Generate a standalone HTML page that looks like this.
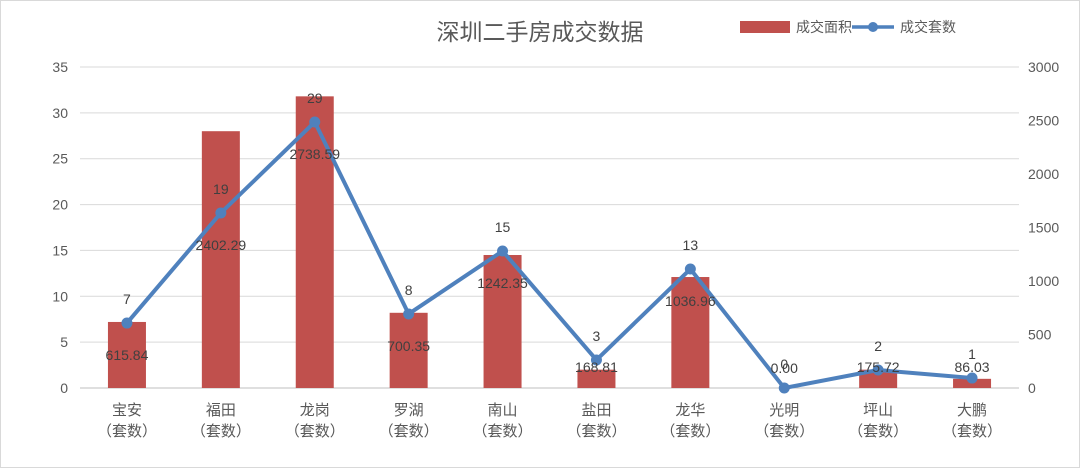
<!DOCTYPE html>
<html><head><meta charset="utf-8"><style>
body{margin:0;background:#fff;}
svg text{font-family:"Liberation Sans","Noto Sans CJK SC",sans-serif;}
</style></head><body>
<svg width="1080" height="468" viewBox="0 0 1080 468" id="c">
<rect x="0.5" y="0.5" width="1079" height="467" fill="#fff" stroke="#d9d9d9"/>
<text x="540" y="40" text-anchor="middle" font-size="23" fill="#595959">深圳二手房成交数据</text>
<g>
<rect x="740" y="21" width="50" height="12" fill="#c0504d"/>
<text x="796" y="32" font-size="14" fill="#595959">成交面积</text>
<line x1="852" y1="27" x2="894" y2="27" stroke="#4f81bd" stroke-width="3.5"/>
<circle cx="873" cy="27" r="5" fill="#4f81bd"/>
<text x="900" y="32" font-size="14" fill="#595959">成交套数</text>
</g>
<g id="grid"></g><g id="bars"></g><g id="line"></g><g id="labels"></g>
</svg>
<script>
const categories=["宝安","福田","龙岗","罗湖","南山","盐田","龙华","光明","坪山","大鹏"];
const barValues=[7.2,28,31.8,8.2,14.5,2,12.1,0,2,1];
const lineValues=[607,1636,2486,692,1280,262,1112,0,168,93];
const countLabels=["7","19","29","8","15","3","13","0","2","1"];
const areaLabels=["615.84","2402.29","2738.59","700.35","1242.35","168.81","1036.96","0.00","175.72","86.03"];
const leftTicks=[0,5,10,15,20,25,30,35];
const rightTicks=[0,500,1000,1500,2000,2500,3000];
const NS="http://www.w3.org/2000/svg";
const x0=80,x1=1019,yB=388,yT=67;
const band=(x1-x0)/categories.length;
const xc=i=>x0+band*(i+0.5);
const yL=v=>yB-(v/35)*(yB-yT);
const yR=v=>yB-(v/3000)*(yB-yT);
function mk(tag,attrs,parent,txt){const e=document.createElementNS(NS,tag);for(const k in attrs)e.setAttribute(k,attrs[k]);if(txt!=null)e.textContent=txt;document.getElementById(parent).appendChild(e);return e;}
leftTicks.forEach(t=>{
 const l=mk('line',{x1:x0,x2:x1,y1:yL(t),y2:yL(t),stroke:t===0?'#bfbfbf':'#d9d9d9','stroke-width':1},'grid');
 
 
 const tx=mk('text',{x:68,y:yL(t)+5,'text-anchor':'end','font-size':14,fill:'#595959'},'grid',t);
 
 
});
rightTicks.forEach(t=>{
 const tx=mk('text',{x:1028,y:yR(t)+5,'font-size':14,fill:'#595959'},'grid',t);
 
 
});
categories.forEach((c,i)=>{
 const a=mk('text',{x:xc(i),y:415,'text-anchor':'middle','font-size':15,fill:'#595959'},'grid',c);
 
 
 const b=mk('text',{x:xc(i),y:436,'text-anchor':'middle','font-size':15,fill:'#595959'},'grid','（套数）');
 
 
});
barValues.forEach((v,i)=>{
 const r=mk('rect',{x:xc(i)-19,y:yL(v),width:38,height:yB-yL(v),fill:'#c0504d'},'bars');
 
 
});
const p=mk('polyline',{points:lineValues.map((v,i)=>xc(i)+','+yR(v)).join(' '),fill:'none',stroke:'#4f81bd','stroke-width':4,'stroke-linejoin':'round'},'line');


lineValues.forEach((v,i)=>{
 const c=mk('circle',{cx:xc(i),cy:yR(v),r:5.5,fill:'#4f81bd'},'line');
 
 
 const t1=mk('text',{x:xc(i),y:yR(v)-19,'text-anchor':'middle','font-size':14,fill:'#404040'},'labels',countLabels[i]);
 
 
 const ay=v===0?yR(v)-15:Math.min(yR(v)+37,372);
 const t2=mk('text',{x:xc(i),y:ay,'text-anchor':'middle','font-size':14,fill:'#404040'},'labels',areaLabels[i]);
 
 
});
</script>
</body></html>
